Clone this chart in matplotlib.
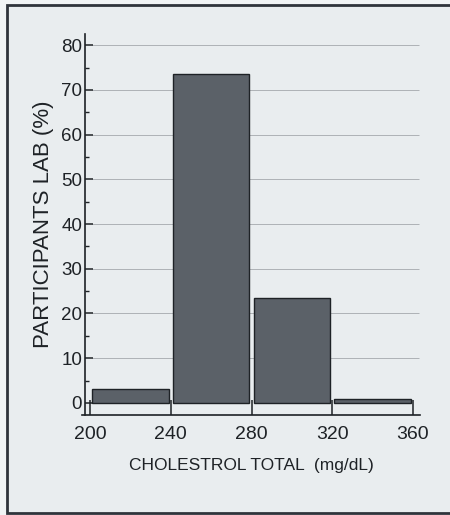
import matplotlib
matplotlib.use("Agg")
import matplotlib.pyplot as plt
from matplotlib.patches import Rectangle
from matplotlib.ticker import MultipleLocator

# data
bin_left = [200, 240, 280, 320]
percent = [3.1, 73.5, 23.5, 0.8]
x_ticks = [200, 240, 280, 320, 360]
y_ticks = [0, 10, 20, 30, 40, 50, 60, 70, 80]

narrow = ['Liberation Sans Narrow', 'Liberation Sans']

fig = plt.figure(figsize=(4.5, 5.15), dpi=100)
fig.patch.set_facecolor('#f1f4f5')

# outer frame of the figure in the document
frame = Rectangle((7 / 450, 2 / 515), 1.2, 508 / 515, transform=fig.transFigure,
                  facecolor='#e9edef', edgecolor='#2f343b', linewidth=2, zorder=-10)
fig.patches.append(frame)

ax = fig.add_axes([82 / 450, 100 / 515, 338 / 450, 381 / 515])
ax.set_facecolor('none')

# grid lines
ax.hlines(y_ticks[1:], 201, 363, colors='#aeb2b6', linewidth=0.7, zorder=1)

ax.bar([b + 1 for b in bin_left], percent, width=38, align='edge',
       color='#5b6168', edgecolor='#1e2226', linewidth=1.0, zorder=2)

ax.set_xlim(196, 363.5)
ax.set_ylim(-2.7, 82.5)

ax.spines['top'].set_visible(False)
ax.spines['right'].set_visible(False)
ax.spines['left'].set_position(('data', 197.5))
for s in ('left', 'bottom'):
    ax.spines[s].set_color('#1e2226')
    ax.spines[s].set_linewidth(1.2)

ax.set_xticks(x_ticks)
ax.set_yticks(y_ticks)
ax.yaxis.set_minor_locator(MultipleLocator(5))
ax.tick_params(axis='y', which='major', direction='in', length=6, width=1.1,
               pad=2, colors='#1e2226')
ax.tick_params(axis='y', which='minor', direction='in', length=3, width=1.0,
               colors='#1e2226')
ax.tick_params(axis='x', which='major', direction='in', length=11, width=1.1,
               pad=8, colors='#1e2226')

for lab in ax.get_xticklabels():
    lab.set_family(narrow)
    lab.set_fontsize(14)
for lab in ax.get_yticklabels():
    lab.set_family(narrow)
    lab.set_fontsize(13.5)

ax.set_xlabel('CHOLESTROL TOTAL  (mg/dL)', family=narrow, fontsize=12.5,
              color='#1e2226', labelpad=11)
ax.set_ylabel('PARTICIPANTS LAB (%)', family=['Liberation Sans', 'DejaVu Sans'],
              fontsize=16, color='#1e2226', labelpad=5)

fig.savefig('out.png', dpi=100, facecolor=fig.get_facecolor())
